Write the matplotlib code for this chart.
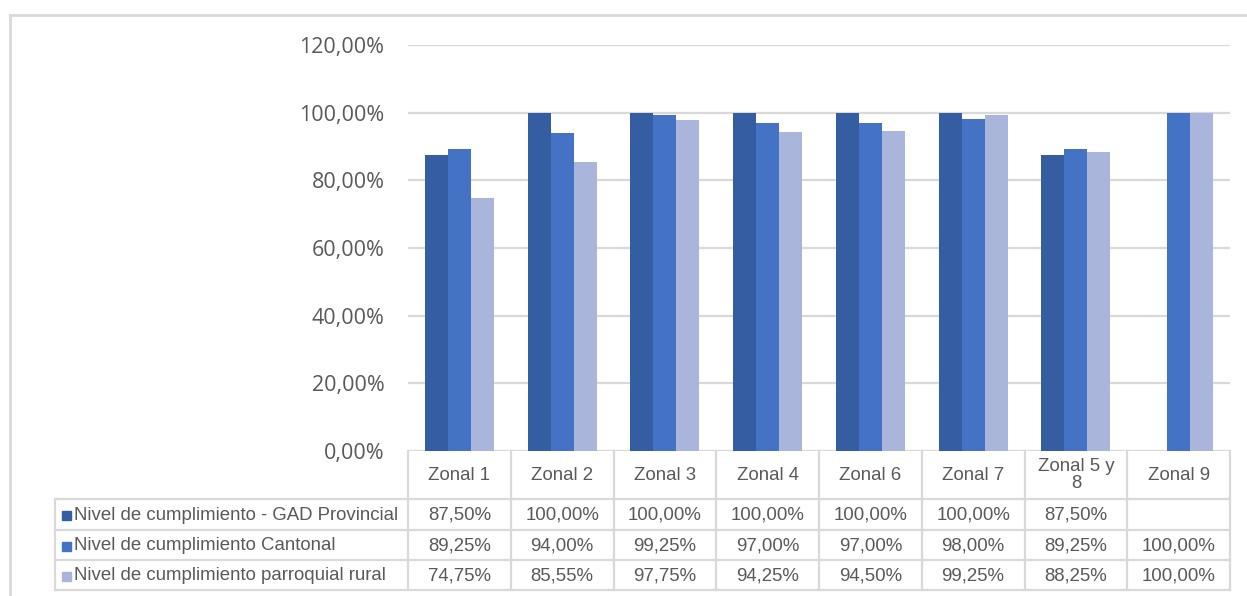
import numpy as np
import matplotlib.pyplot as plt
from matplotlib.lines import Line2D
from matplotlib.patches import Rectangle
import matplotlib.transforms as mtransforms

# datos
zonas = ['Zonal 1', 'Zonal 2', 'Zonal 3', 'Zonal 4', 'Zonal 6', 'Zonal 7', 'Zonal 5 y\n8', 'Zonal 9']
series = ['Nivel de cumplimiento - GAD Provincial',
          'Nivel de cumplimiento Cantonal',
          'Nivel de cumplimiento parroquial rural']
provincial = [87.50, 100.00, 100.00, 100.00, 100.00, 100.00, 87.50, np.nan]
cantonal = [89.25, 94.00, 99.25, 97.00, 97.00, 98.00, 89.25, 100.00]
parroquial = [74.75, 85.55, 97.75, 94.25, 94.50, 99.25, 88.25, 100.00]
y_ticks = [0, 20, 40, 60, 80, 100, 120]

colores = ['#355DA2', '#4472C4', '#A9B5DA']
gris = '#D9D9D9'
texto = '#595959'

W, H = 1247, 596
fig = plt.figure(figsize=(W / 100, H / 100), dpi=100)

# posicion del area de trazado (pixeles)
x0, x1, ytop, ybot = 408, 1230, 45, 451
ax = fig.add_axes([x0 / W, 1 - ybot / H, (x1 - x0) / W, (ybot - ytop) / H])

x = np.arange(len(zonas))
w = 0.2235
for i, vals in enumerate([provincial, cantonal, parroquial]):
    ax.bar(x + (i - 1) * w, vals, width=w, color=colores[i], zorder=3)

ax.set_xlim(-0.5, len(zonas) - 0.5)
ax.set_ylim(0, 120)
ax.set_yticks(y_ticks)
ax.set_yticklabels([f'{v:.2f}'.replace('.', ',') + '%' for v in y_ticks],
                   fontname='Open Sans', fontsize=15.5, color=texto)
ax.tick_params(axis='y', length=0, pad=17)
ax.set_xticks([])
ax.grid(axis='y', color=gris, linewidth=1.6, zorder=0)
for s in ax.spines.values():
    s.set_visible(False)

# tabla de datos debajo del grafico
def fy(py):
    # pixel y -> fraccion de ejes
    return (ybot - py) / (ybot - ytop)

tr = mtransforms.blended_transform_factory(ax.transData, ax.transAxes)
unit = (x1 - x0) / len(zonas)
left_col = -0.5 - (x0 - 55) / unit
row_y = [451, 499, 530, 560, 590]
lw = 1.6

def hline(xa, xb, py):
    ax.add_line(Line2D([xa, xb], [fy(py), fy(py)], transform=tr, color=gris,
                       linewidth=lw, clip_on=False))

def vline(xx, pa, pb):
    ax.add_line(Line2D([xx, xx], [fy(pa), fy(pb)], transform=tr, color=gris,
                       linewidth=lw, clip_on=False))

for py in row_y[1:]:
    hline(left_col, len(zonas) - 0.5, py)
for k in range(len(zonas) + 1):
    vline(k - 0.5, row_y[0], row_y[-1])
vline(left_col, row_y[1], row_y[-1])

fnt = dict(fontname='Liberation Sans', fontsize=13.4, color=texto)
for k, z in enumerate(zonas):
    ax.text(k, fy((row_y[0] + row_y[1]) / 2), z, transform=tr, ha='center',
            va='center', linespacing=0.95, **fnt)

datos = [provincial, cantonal, parroquial]
for r, (nombre, vals) in enumerate(zip(series, datos)):
    yc = fy((row_y[r + 1] + row_y[r + 2]) / 2 + 1)
    ax.add_patch(Rectangle((62 / W, 1 - (row_y[r + 1] + row_y[r + 2]) / 2 / H - 5.5 / H),
                           9 / W, 9 / H, transform=fig.transFigure,
                           color=colores[r], clip_on=False))
    fig.text(74 / W, 1 - ((row_y[r + 1] + row_y[r + 2]) / 2 + 1) / H, nombre,
             ha='left', va='center', **fnt)
    for k, v in enumerate(vals):
        if not np.isnan(v):
            ax.text(k, yc, f'{v:.2f}'.replace('.', ',') + '%', transform=tr,
                    ha='center', va='center', **fnt)

# borde del area del grafico
fig.add_artist(Line2D([9.5 / W, 1], [1 - 14.5 / H, 1 - 14.5 / H],
                      transform=fig.transFigure, color=gris, linewidth=2))
fig.add_artist(Line2D([9.5 / W, 9.5 / W], [0, 1 - 14.5 / H],
                      transform=fig.transFigure, color=gris, linewidth=2))

fig.savefig('out.png', dpi=100)
